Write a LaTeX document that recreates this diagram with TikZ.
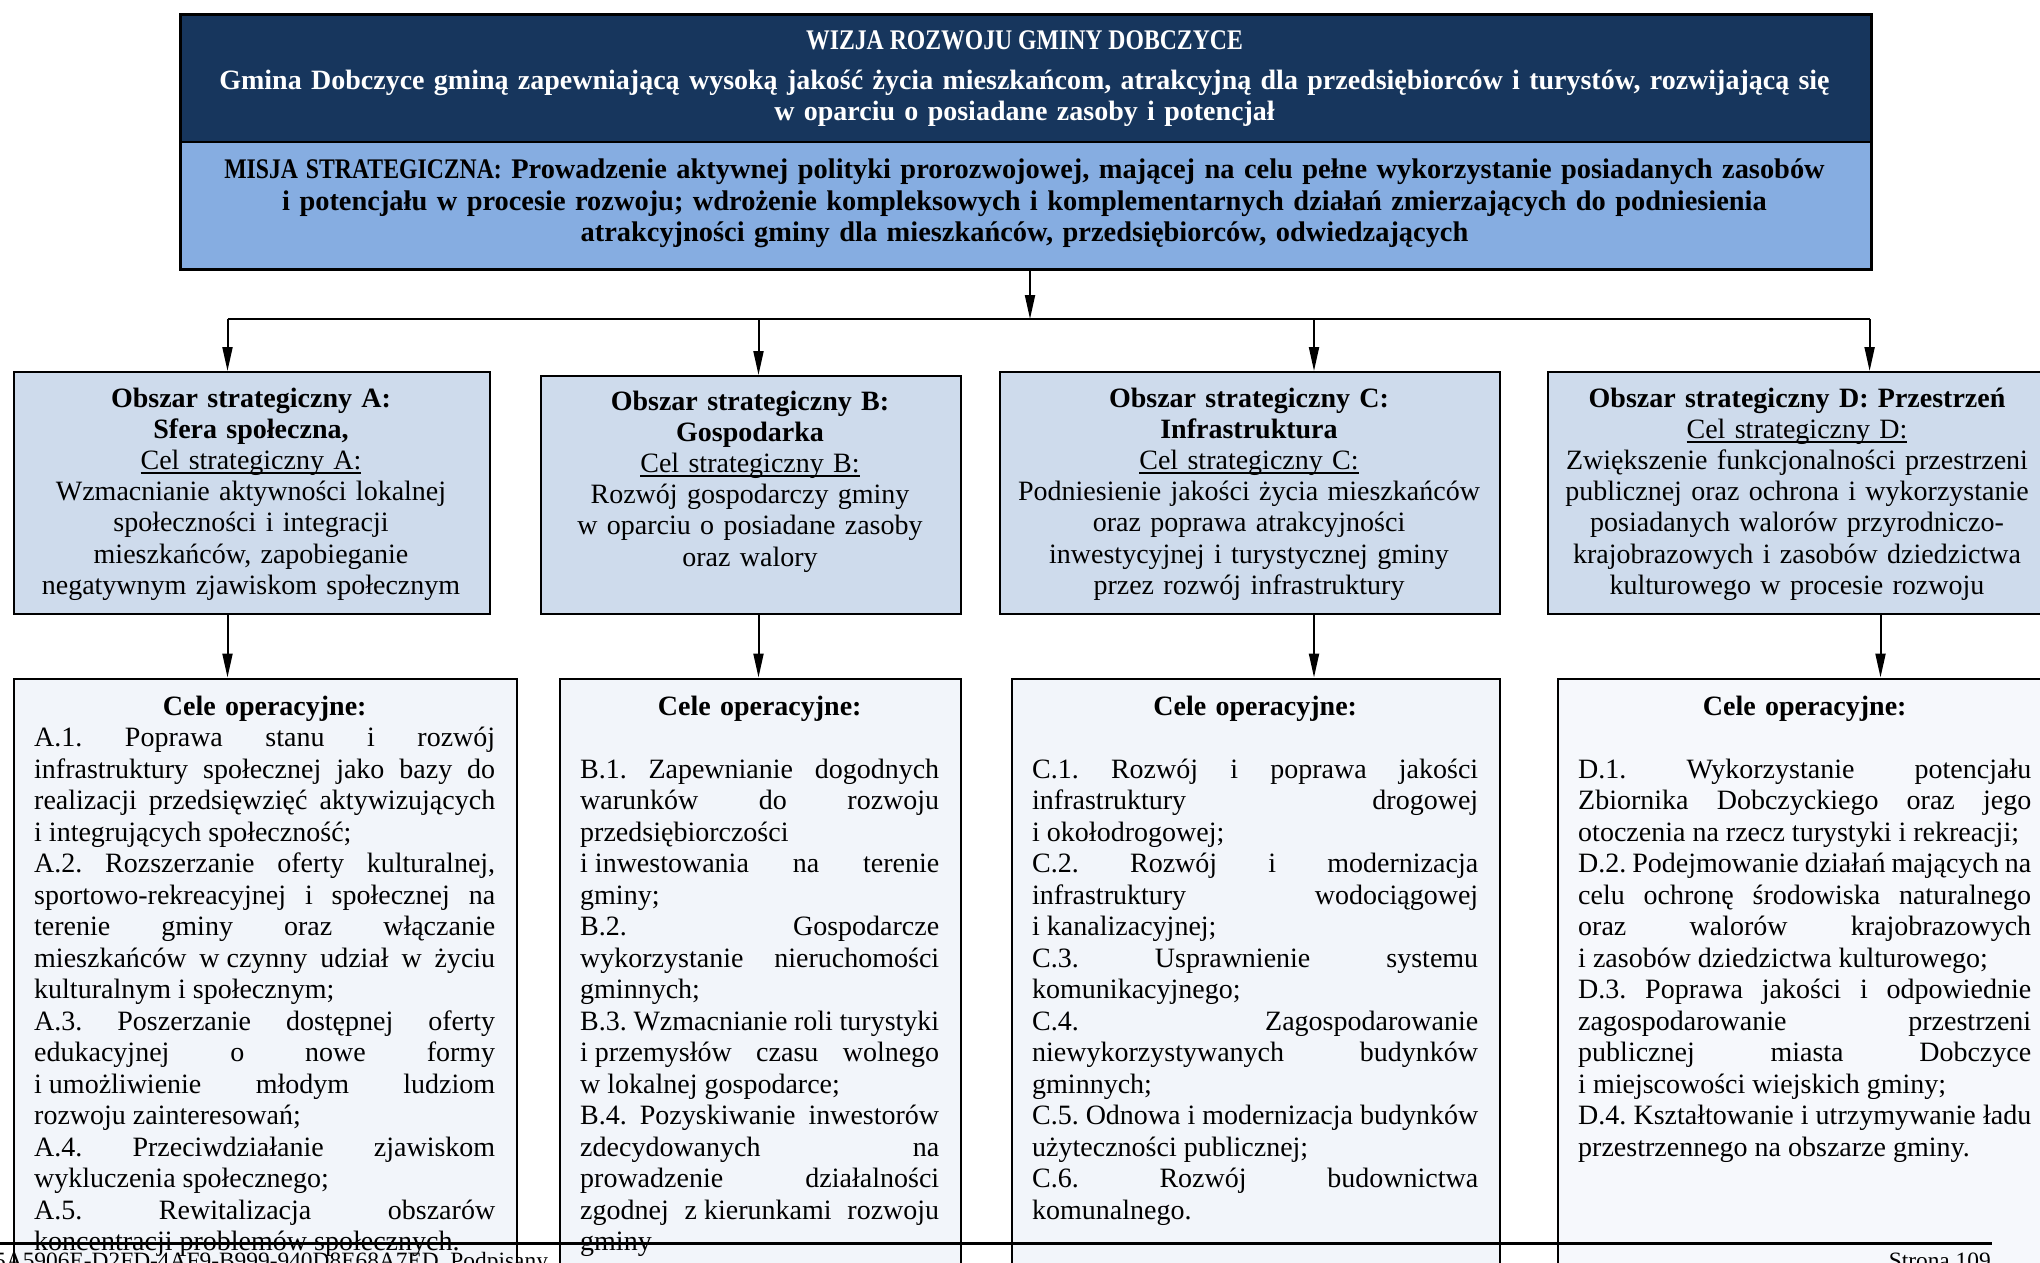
\documentclass[tikz,border=0pt]{standalone}
\usepackage{graphicx}
\usepackage{fontspec}
\setmainfont{Liberation Serif}
\usetikzlibrary{arrows.meta}
\definecolor{navy}{RGB}{23,54,93}
\definecolor{misja}{RGB}{134,173,225}
\definecolor{areafill}{RGB}{206,219,236}
\definecolor{opfill}{RGB}{242,245,250}
\definecolor{opfillD}{RGB}{246,248,252}
\newlength\cw
\newcommand\jsp{\frenchspacing\spaceskip=0.25em plus 1fil minus 0.1em\relax\xspaceskip=\spaceskip}
\newcommand\nsp{\frenchspacing\spaceskip=0.25em\relax\xspaceskip=\spaceskip}
\newcommand\J[1]{\makebox[\cw][s]{\jsp\strut#1}\\}
\newcommand\Lx[1]{\makebox[\cw][l]{\nsp\strut#1}\\}
\newcommand\Le[1]{\makebox[\cw][l]{\nsp\strut#1}}
\newcommand\Hd{\makebox[\cw][c]{\strut\textbf{Cele operacyjne:}}\\}
\newcommand\hs{\hskip0.25em\relax}
\newcommand\ulin[1]{\leavevmode\setbox0\hbox{#1}\rlap{\rule[-4.5pt]{\wd0}{1.6pt}}\box0}
\tikzset{
  box/.style={draw=black, line width=2pt, inner sep=0pt, anchor=north west},
  areabox/.style={box, fill=areafill},
  opbox/.style={box, fill=opfill},
  topbox/.style={draw=black, line width=2.6pt, inner sep=0pt, anchor=north west, minimum width=1691pt, minimum height=127.5pt},
  arr/.style={draw=black, line width=2pt, -{Triangle[length=24pt,width=10pt]}},
  busline/.style={draw=black, line width=2pt},
  areatxt/.style={anchor=north, inner sep=0pt, align=center, font=\fontsize{28}{31.2}\selectfont},
  optxt/.style={anchor=north west, inner sep=0pt, align=left, text width=#1,
    font=\fontsize{28}{31.5}\selectfont,
    execute at begin node={\setlength\cw{#1}\setlength\parindent{0pt}}},
  toptxt/.style={anchor=north, inner sep=0pt, align=center, text width=1680pt,
    font=\fontsize{28.4}{31.2}\selectfont\bfseries},
  foot/.style={inner sep=0pt, font=\fontsize{23.4}{28}\selectfont},
}
\begin{document}
\begin{tikzpicture}[x=1pt,y=-1pt]
\useasboundingbox (0,0) rectangle (2040,1263);
\clip (0,0) rectangle (2040,1263);
\fill[white] (0,0) rectangle (2040,1263);

% top boxes
\node[topbox, fill=navy] (vis) at (179,13) {};
\node[topbox, fill=misja] (mis) at (179,140.5) {};
\node[anchor=base, inner sep=0pt, text=white, font=\fontsize{28.4}{31.2}\selectfont\bfseries] (wiz) at (1024.5,49.2) {\scalebox{0.835}[1]{WIZJA ROZWOJU GMINY DOBCZYCE}};
\node[toptxt, text=white, font=\fontsize{28}{31.2}\selectfont\bfseries] (vtx) at (1024.5,67.2) {\strut Gmina Dobczyce gminą zapewniającą wysoką jakość życia mieszkańcom, atrakcyjną dla przedsiębiorców i turystów, rozwijającą się\\ w oparciu o posiadane zasoby i potencjał};
\node[toptxt] (mtx) at (1024.5,156.8) {\strut \scalebox{0.835}[1]{MISJA STRATEGICZNA:} Prowadzenie aktywnej polityki prorozwojowej, mającej na celu pełne wykorzystanie posiadanych zasobów\\ i potencjału w procesie rozwoju; wdrożenie kompleksowych i komplementarnych działań zmierzających do podniesienia\\ atrakcyjności gminy dla mieszkańców, przedsiębiorców, odwiedzających};

% strategic area boxes
\node[areabox, minimum width=476pt, minimum height=242pt] (A1) at (13,371) {};
\node[areabox, minimum width=420pt, minimum height=238pt] (B1) at (540,375) {};
\node[areabox, minimum width=500pt, minimum height=242pt] (C1) at (999,371) {};
\node[areabox, minimum width=500pt, minimum height=242pt] (D1) at (1547,371) {};

\node[areatxt, text width=466pt] (A1t) at (251,385) {\strut\textbf{Obszar strategiczny A:}\\ \textbf{Sfera społeczna,}\\ \ulin{Cel strategiczny A:}\\ Wzmacnianie aktywności lokalnej\\ społeczności i integracji\\ mieszkańców, zapobieganie\\ negatywnym zjawiskom społecznym};
\node[areatxt, text width=410pt] (B1t) at (750,388) {\strut\textbf{Obszar strategiczny B:}\\ \textbf{Gospodarka}\\ \ulin{Cel strategiczny B:}\\ Rozwój gospodarczy gminy\\ w oparciu o posiadane zasoby\\ oraz walory};
\node[areatxt, text width=490pt] (C1t) at (1249,385) {\strut\textbf{Obszar strategiczny C:}\\ \textbf{Infrastruktura}\\ \ulin{Cel strategiczny C:}\\ Podniesienie jakości życia mieszkańców\\ oraz poprawa atrakcyjności\\ inwestycyjnej i turystycznej gminy\\ przez rozwój infrastruktury};
\node[areatxt, text width=484pt] (D1t) at (1797,385) {\strut\textbf{Obszar strategiczny D: Przestrzeń}\\ \ulin{Cel strategiczny D:}\\ Zwiększenie funkcjonalności przestrzeni\\ publicznej oraz ochrona i wykorzystanie\\ posiadanych walorów przyrodniczo-\\ krajobrazowych i zasobów dziedzictwa\\ kulturowego w procesie rozwoju};

% operational goal boxes
\node[opbox, minimum width=503pt, minimum height=640pt] (A2) at (13,677.5) {};
\node[opbox, minimum width=401pt, minimum height=640pt] (B2) at (559,677.5) {};
\node[opbox, minimum width=488pt, minimum height=640pt] (C2) at (1011,677.5) {};
\node[box, fill=opfillD, minimum width=500pt, minimum height=640pt] (D2) at (1557,677.5) {};

\node[optxt=461pt] (A2t) at (34,693) {\Hd
\J{A.1. Poprawa stanu i rozwój}
\J{infrastruktury społecznej jako bazy do}
\J{realizacji przedsięwzięć aktywizujących}
\Lx{i\hs integrujących społeczność;}
\J{A.2. Rozszerzanie oferty kulturalnej,}
\J{sportowo-rekreacyjnej i społecznej na}
\J{terenie gminy oraz włączanie}
\J{mieszkańców w\hs czynny udział w życiu}
\Lx{kulturalnym i społecznym;}
\J{A.3. Poszerzanie dostępnej oferty}
\J{edukacyjnej o nowe formy}
\J{i\hs umożliwienie młodym ludziom}
\Lx{rozwoju zainteresowań;}
\J{A.4. Przeciwdziałanie zjawiskom}
\Lx{wykluczenia społecznego;}
\J{A.5. Rewitalizacja obszarów}
\Le{koncentracji problemów społecznych.}};

\node[optxt=359pt] (B2t) at (580,693) {\Hd
\Lx{}
\J{B.1. Zapewnianie dogodnych}
\J{warunków do rozwoju}
\Lx{przedsiębiorczości}
\J{i\hs inwestowania na terenie}
\Lx{gminy;}
\J{B.2. Gospodarcze}
\J{wykorzystanie nieruchomości}
\Lx{gminnych;}
\J{B.3. Wzmacnianie roli turystyki}
\J{i\hs przemysłów czasu wolnego}
\Lx{w\hs lokalnej gospodarce;}
\J{B.4. Pozyskiwanie inwestorów}
\J{zdecydowanych na}
\J{prowadzenie działalności}
\J{zgodnej z\hs kierunkami rozwoju}
\Le{gminy}};

\node[optxt=446pt] (C2t) at (1032,693) {\Hd
\Lx{}
\J{C.1. Rozwój i poprawa jakości}
\J{infrastruktury drogowej}
\Lx{i\hs okołodrogowej;}
\J{C.2. Rozwój i modernizacja}
\J{infrastruktury wodociągowej}
\Lx{i\hs kanalizacyjnej;}
\J{C.3. Usprawnienie systemu}
\Lx{komunikacyjnego;}
\J{C.4. Zagospodarowanie}
\J{niewykorzystywanych budynków}
\Lx{gminnych;}
\J{C.5. Odnowa i modernizacja budynków}
\Lx{użyteczności publicznej;}
\J{C.6. Rozwój budownictwa}
\Le{komunalnego.}};

\node[optxt=453pt] (D2t) at (1578,693) {\Hd
\Lx{}
\J{D.1. Wykorzystanie potencjału}
\J{Zbiornika Dobczyckiego oraz jego}
\Lx{otoczenia na rzecz turystyki i rekreacji;}
\J{D.2. Podejmowanie działań mających na}
\J{celu ochronę środowiska naturalnego}
\J{oraz walorów krajobrazowych}
\Lx{i\hs zasobów dziedzictwa kulturowego;}
\J{D.3. Poprawa jakości i odpowiednie}
\J{zagospodarowanie przestrzeni}
\J{publicznej miasta Dobczyce}
\Lx{i\hs miejscowości wiejskich gminy;}
\J{D.4. Kształtowanie i utrzymywanie ładu}
\Le{przestrzennego na obszarze gminy.}};

% connectors
\coordinate (bus) at (1030,319);
\coordinate (ja) at (227.5,319);
\coordinate (jb) at (758.5,319);
\coordinate (jc) at (1314,319);
\coordinate (jd) at (1869.6,319);
\coordinate (kd) at (1880.5,319);
\draw[arr] (bus |- mis.south) -- (bus);
\draw[busline] (ja) -- (jd);
\draw[arr] (ja) -- (ja |- A1.north);
\draw[arr] (jb) -- (jb |- B1.north);
\draw[arr] (jc) -- (jc |- C1.north);
\draw[arr] (jd) -- (jd |- D1.north);
\draw[arr] (ja |- A1.south) -- (ja |- A2.north);
\draw[arr] (jb |- B1.south) -- (jb |- B2.north);
\draw[arr] (jc |- C1.south) -- (jc |- C2.north);
\draw[arr] (kd |- D1.south) -- (kd |- D2.north);

% page footer
\coordinate (fl) at (0,1243);
\coordinate (fr) at (1992,1243);
\draw[black, line width=3pt] (fl) -- (fr);
\node[foot, anchor=base west] (f1) at (-6,1268.5) {5A5906E-D2FD-4AF9-B999-940D8E68A7ED. Podpisany};
\node[foot, anchor=base east] (f2) at (1991,1268.5) {Strona 109};
\end{tikzpicture}
\end{document}
